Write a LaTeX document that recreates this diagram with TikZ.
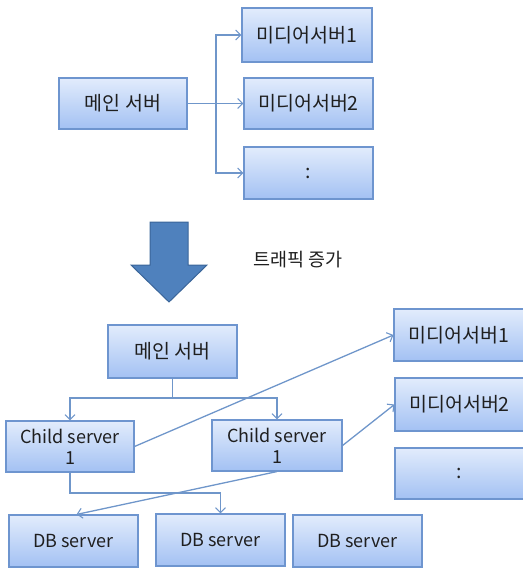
\documentclass[tikz,border=0pt]{standalone}
\usepackage{fontspec}
\setmainfont{Noto Sans CJK KR}
\usetikzlibrary{arrows.meta,shadows}
\definecolor{boxborder}{HTML}{6E95CF}
\definecolor{boxtop}{HTML}{E2ECFC}
\definecolor{boxbot}{HTML}{A3C1F3}
\definecolor{linecol}{HTML}{6F96CA}
\definecolor{bigfill}{HTML}{4F81BD}
\definecolor{bigedge}{HTML}{3A6599}
\begin{document}
\begin{tikzpicture}[x=1pt,y=-1pt,
  box/.style={draw=boxborder,line width=1.1pt,top color=boxtop,bottom color=boxbot,
    minimum width=129pt,minimum height=52pt,inner sep=0pt,align=center,
    font=\fontsize{19.5}{21}\selectfont,text=black!88,
    drop shadow={opacity=0.25,shadow xshift=1.2pt,shadow yshift=-1.2pt}},
  lat/.style={font=\fontsize{18}{21}\selectfont},
  conn/.style={draw=linecol,line width=1.3pt},
  arr/.style={conn,-{Straight Barb[length=5pt,width=10pt,line width=1.1pt]}}]
\useasboundingbox (0,0) rectangle (522,569);
% top part
\node[box,minimum width=128pt,minimum height=51pt] (m0) at (123,103.5) {메인 서버};
\node[box,minimum width=130pt,minimum height=54pt] (a1) at (307,35) {미디어서버1};
\node[box,minimum height=51pt] (a2) at (308.5,103.5) {미디어서버2};
\node[box] (a3) at (308.5,173) {:};
\coordinate (j) at (216,103.5);
\draw[conn,line width=1.6pt] (m0.east) -- (j);
\draw[arr] (j) |- (a1.west);
\draw[arr] (j) -- (a2.west);
\draw[arr] (j) |- (a3.west);
% big arrow
\draw[bigedge,fill=bigfill,line width=1pt,line join=miter]
  (150,222) -- (188,222) -- (188,265) -- (207,265) -- (169,302) -- (131,265) -- (150,265) -- cycle;
\node[font=\fontsize{18.5}{21}\selectfont,text=black!88,inner sep=0pt] (t) at (298,260) {트래픽 증가};
% bottom part
\node[box,minimum height=53pt] (m1) at (172.5,351.5) {메인 서버};
\node[box,minimum width=130pt] (b1) at (459,335) {미디어서버1};
\node[box,minimum height=53pt] (b2) at (459.5,404.5) {미디어서버2};
\node[box,minimum height=51pt] (b3) at (459.5,473.5) {:};
\node[box,lat,minimum width=128pt,minimum height=51pt] (c1) at (70,446.5) {Child server\\1};
\node[box,lat,minimum width=130pt,minimum height=51pt] (c2) at (277,445.5) {Child server\\1};
\node[box,lat] (d1) at (73.5,541) {DB server};
\node[box,lat] (d2) at (220.5,540) {DB server};
\node[box,lat] (d3) at (357.5,541) {DB server};
\coordinate (h) at (172.5,398);
\draw[conn] (m1.south) -- (h);
\draw[arr] (h) -| (c1.north);
\draw[arr] (h) -| (c2.north);
\draw[arr] (c1.east) -- (b1.west);
\draw[arr] (c2.east) -- (b2.west);
\coordinate (k) at (220.5,493);
\draw[arr] (c1.south) |- (k) -- (d2.north);
\draw[arr] (c2.south) -- ([xshift=3pt]d1.north);
\end{tikzpicture}
\end{document}
